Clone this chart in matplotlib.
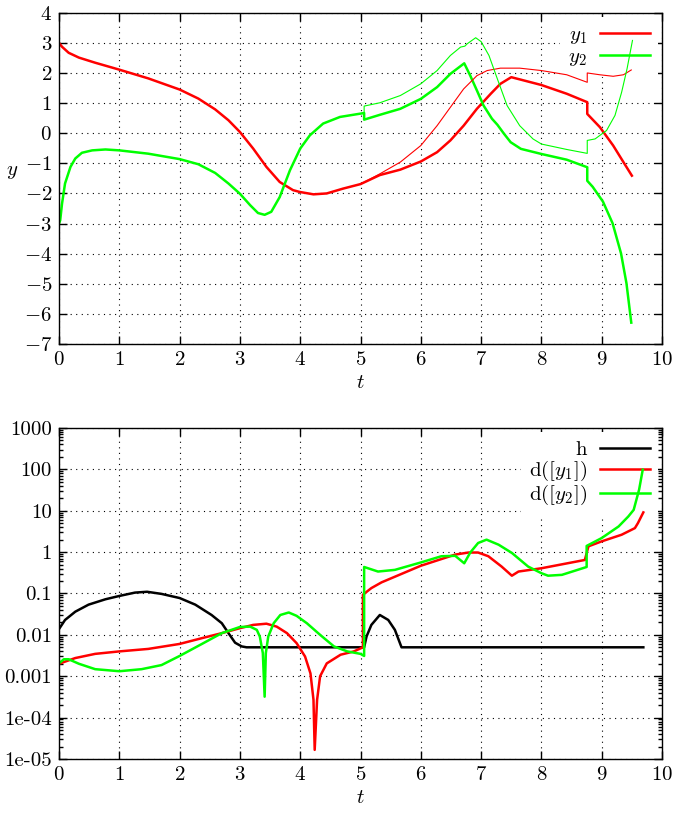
import matplotlib
matplotlib.use('Agg')
import matplotlib.pyplot as plt
from matplotlib.ticker import FixedLocator, FixedFormatter, NullFormatter

plt.rcParams['font.family'] = 'cmr10'
plt.rcParams['mathtext.fontset'] = 'cm'
plt.rcParams['axes.unicode_minus'] = False
plt.rcParams['axes.formatter.use_mathtext'] = True
plt.rcParams['font.size'] = 15

# --- top panel: solution components (thick) and second run from t=5 (thin)
t_y1 = [0, 0.05, 0.16, 0.33, 0.6, 1.0, 1.48, 2.0, 2.31, 2.59, 2.81, 3.0, 3.22, 3.44, 3.66,
        3.88, 3.99, 4.22, 4.44, 4.71, 5.0, 5.32, 5.66, 6.0, 6.27, 6.49, 6.71, 6.93, 7.16, 7.32,
        7.5, 8.0, 8.42, 8.76, 8.76, 8.97, 9.19, 9.36, 9.5]
y1 = [3.0, 2.87, 2.67, 2.51, 2.34, 2.11, 1.82, 1.45, 1.15, 0.79, 0.43, 0.04, -0.51, -1.12, -1.62,
      -1.89, -1.95, -2.03, -2.0, -1.84, -1.69, -1.39, -1.21, -0.94, -0.63, -0.24, 0.25, 0.81, 1.31, 1.64,
      1.86, 1.60, 1.31, 1.03, 0.64, 0.20, -0.41, -0.96, -1.41]

t_y2 = [0, 0.02, 0.05, 0.1, 0.19, 0.27, 0.38, 0.55, 0.77, 1.0, 1.48, 2.0, 2.31, 2.59, 2.81,
        3.0, 3.17, 3.3, 3.41, 3.52, 3.66, 3.83, 4.0, 4.16, 4.38, 4.66, 5.06, 5.06, 5.32, 5.66,
        6.0, 6.27, 6.49, 6.72, 6.82, 6.93, 7.04, 7.18, 7.27, 7.38, 7.49, 7.66, 8.0, 8.42, 8.76,
        8.76, 8.85, 9.02, 9.18, 9.32, 9.41, 9.49]
y2 = [-3.0, -2.89, -2.34, -1.67, -1.12, -0.84, -0.65, -0.57, -0.54, -0.57, -0.68, -0.86, -1.03, -1.32, -1.67,
      -2.01, -2.39, -2.65, -2.71, -2.61, -2.12, -1.23, -0.51, -0.07, 0.32, 0.54, 0.67, 0.45, 0.61, 0.81,
      1.14, 1.53, 1.97, 2.32, 1.91, 1.42, 0.92, 0.48, 0.28, -0.02, -0.30, -0.52, -0.69, -0.88, -1.13,
      -1.58, -1.78, -2.27, -2.99, -3.99, -4.98, -6.29]

t_y1b = [5.0, 5.32, 5.66, 6.0, 6.27, 6.49, 6.71, 6.93, 7.1, 7.32, 7.64, 8.0, 8.42, 8.76, 8.76,
         8.97, 9.19, 9.36, 9.49]
y1b = [-1.69, -1.35, -0.96, -0.41, 0.25, 0.86, 1.47, 1.91, 2.08, 2.16, 2.16, 2.08, 1.94, 1.69, 2.0,
       1.94, 1.89, 1.94, 2.10]

t_y2b = [5.06, 5.06, 5.32, 5.66, 6.0, 6.27, 6.49, 6.66, 6.73, 6.77, 6.91, 7.0, 7.13, 7.27, 7.43,
         7.64, 7.86, 8.0, 8.42, 8.76, 8.76, 8.89, 9.08, 9.22, 9.33, 9.42, 9.51]
y2b = [0.67, 0.90, 1.01, 1.25, 1.64, 2.08, 2.58, 2.86, 2.89, 2.97, 3.17, 3.04, 2.58, 1.80, 0.92,
       0.25, -0.19, -0.36, -0.54, -0.67, -0.24, -0.19, 0.09, 0.59, 1.36, 2.14, 3.08]

# --- bottom panel: step size and error estimates
t_h = [0, 0.1, 0.27, 0.49, 0.77, 1.0, 1.26, 1.46, 1.7, 2.0, 2.26, 2.53, 2.7, 2.81, 2.92, 3.03,
       3.11, 5.06, 5.1, 5.18, 5.32, 5.46, 5.57, 5.68, 9.69]
h = [0.0138, 0.0229, 0.0363, 0.0537, 0.0724, 0.0871, 0.105, 0.110, 0.0977, 0.0776, 0.0537, 0.0302, 0.0191, 0.011, 0.00646, 0.00525,
     0.005, 0.005, 0.00912, 0.0174, 0.0302, 0.0229, 0.0132, 0.005, 0.005]

t_d1 = [0, 0.27, 0.6, 1.0, 1.48, 2.0, 2.37, 2.7, 3.0, 3.22, 3.44, 3.61, 3.78, 3.94, 4.08, 4.17,
        4.22, 4.24, 4.28, 4.33, 4.44, 4.67, 4.89, 5.04, 5.04, 5.18, 5.35, 6.0, 6.57, 6.79, 6.95,
        7.12, 7.34, 7.51, 7.62, 8.0, 8.72, 8.78, 9.0, 9.33, 9.55, 9.6, 9.69]
d1 = [0.002, 0.00275, 0.00347, 0.00398, 0.00457, 0.00603, 0.00832, 0.011, 0.0145, 0.0174, 0.0186, 0.0158, 0.011, 0.0063, 0.003, 0.00117,
      0.00027, 0.0000166, 0.00027, 0.001, 0.00204, 0.00331, 0.00398, 0.005, 0.0933, 0.135, 0.186, 0.468, 0.871, 0.977, 0.977,
      0.794, 0.447, 0.269, 0.339, 0.407, 0.646, 1.38, 1.82, 2.63, 3.8, 5.01, 9.12]

t_d2 = [0, 0.08, 0.16, 0.33, 0.6, 1.0, 1.37, 1.7, 2.0, 2.37, 2.7, 3.0, 3.17, 3.28, 3.33, 3.38,
        3.41, 3.43, 3.47, 3.56, 3.67, 3.81, 3.94, 4.11, 4.33, 4.56, 4.78, 5.0, 5.06, 5.06, 5.29,
        5.57, 6.0, 6.34, 6.57, 6.72, 6.82, 6.95, 7.09, 7.29, 7.51, 7.78, 8.0, 8.11, 8.34, 8.75,
        8.75, 9.0, 9.28, 9.44, 9.53, 9.62, 9.68]
d2 = [0.00204, 0.00257, 0.00257, 0.002, 0.00148, 0.00132, 0.00148, 0.00186, 0.00309, 0.00603, 0.011, 0.0155, 0.0158, 0.0132, 0.00912, 0.00363,
      0.00032, 0.00363, 0.00912, 0.0191, 0.0302, 0.0347, 0.0288, 0.0191, 0.01, 0.00525, 0.00398, 0.00347, 0.00309, 0.437, 0.339,
      0.372, 0.562, 0.794, 0.813, 0.537, 0.977, 1.66, 2.0, 1.51, 0.955, 0.447, 0.309, 0.269, 0.282, 0.437,
      1.41, 2.19, 4.17, 7.24, 10.5, 32.4, 98.0]

log_ticks = [1e-5, 1e-4, 1e-3, 1e-2, 1e-1, 1, 10, 100, 1000]
log_tick_labels = ['1e-05', '1e-04', '0.001', '0.01', '0.1', '1', '10', '100', '1000']

RED = '#ff0000'
GREEN = '#00ff00'
THICK = 1.8
THIN = 0.8

fig = plt.figure(figsize=(6.79, 8.16), dpi=100)
ax1 = fig.add_axes([0.0869, 0.5784, 0.8881, 0.406])
ax2 = fig.add_axes([0.0869, 0.0699, 0.8881, 0.4056])


def style_axes(ax):
    ax.set_axisbelow(True)
    ax.grid(True, which='major', color='black', linestyle=(0, (1, 4)), linewidth=0.8)
    ax.tick_params(which='both', direction='in', top=True, right=True, width=1.0)
    ax.tick_params(which='major', length=6, pad=5)
    ax.tick_params(which='minor', length=3)
    for s in ax.spines.values():
        s.set_linewidth(1.0)
    ax.set_xlim(0, 10)
    ax.set_xticks(range(0, 11))


# top
style_axes(ax1)
ax1.set_ylim(-7, 4)
ax1.set_yticks(range(-7, 5))
ax1.plot(t_y1, y1, color=RED, lw=THICK, label='$y_1$')
ax1.plot(t_y2, y2, color=GREEN, lw=THICK, label='$y_2$')
ax1.plot(t_y1b, y1b, color=RED, lw=THIN)
ax1.plot(t_y2b, y2b, color=GREEN, lw=THIN)
ax1.set_xlabel('$t$', labelpad=4)
ax1.set_ylabel('$y$', rotation=0, va='center', ha='center')
ax1.yaxis.set_label_coords(-0.077, 0.52)
leg = ax1.legend(loc='upper right', markerfirst=False, frameon=True, edgecolor='none',
                 facecolor='white', framealpha=1, handlelength=2.4, borderaxespad=0.2,
                 labelspacing=0.1, fancybox=False, handletextpad=0.6)
leg.set_zorder(1.5)

# bottom
style_axes(ax2)
ax2.set_yscale('log')
ax2.set_ylim(1e-5, 1000)
ax2.yaxis.set_major_locator(FixedLocator(log_ticks))
ax2.yaxis.set_major_formatter(FixedFormatter(log_tick_labels))
minor = [m * d for d in log_ticks[:-1] for m in range(2, 10)]
ax2.yaxis.set_minor_locator(FixedLocator(minor))
ax2.yaxis.set_minor_formatter(NullFormatter())
ax2.plot(t_h, h, color='black', lw=THICK, label='h')
ax2.plot(t_d1, d1, color=RED, lw=THICK, label='d$([y_1])$')
ax2.plot(t_d2, d2, color=GREEN, lw=THICK, label='d$([y_2])$')
ax2.set_xlabel('$t$', labelpad=4)
leg2 = ax2.legend(loc='upper right', markerfirst=False, frameon=True, edgecolor='none',
                  facecolor='white', framealpha=1, handlelength=2.4, borderaxespad=0.2,
                  labelspacing=0.0, fancybox=False, handletextpad=0.6)
leg2.set_zorder(1.5)

fig.savefig('out.png', dpi=100)
